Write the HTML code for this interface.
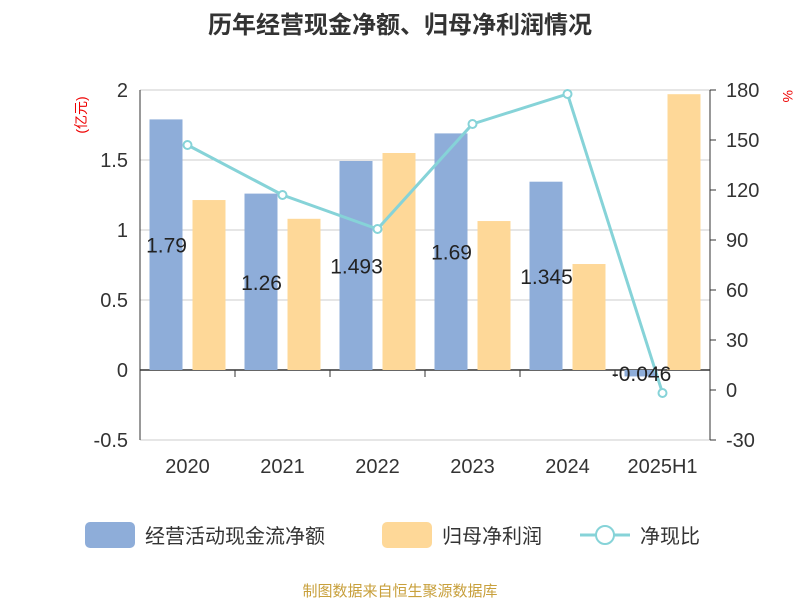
<!DOCTYPE html>
<html><head><meta charset="utf-8"><style>
body{margin:0;background:#fff;font-family:"Liberation Sans","Noto Sans CJK SC",sans-serif}
</style></head><body>
<svg id="c" width="800" height="600" xmlns="http://www.w3.org/2000/svg" style="font-family:'Liberation Sans','Noto Sans CJK SC',sans-serif">
<text x="400" y="33" text-anchor="middle" font-size="24" font-weight="bold" fill="#333">历年经营现金净额、归母净利润情况</text>
<text x="86" y="115" font-size="14" fill="#e00" transform="rotate(-90 86 115)" text-anchor="middle">(亿元)</text>
<text x="783" y="90" font-size="14" fill="#e00" transform="rotate(90 783 90)">%</text>
<g id="grid"></g><g id="bars"></g><g id="line"></g><g id="labels"></g>
<g>
<rect x="85" y="522" width="50" height="26" rx="5" fill="#8eadd9"/>
<text x="145" y="543" font-size="20" fill="#333">经营活动现金流净额</text>
<rect x="382" y="522" width="50" height="26" rx="5" fill="#fed898"/>
<text x="442" y="543" font-size="20" fill="#333">归母净利润</text>
<line x1="580" y1="535" x2="630" y2="535" stroke="#86d3d8" stroke-width="3"/>
<circle cx="605" cy="535" r="9" fill="#fff" stroke="#86d3d8" stroke-width="2"/>
<text x="640" y="543" font-size="20" fill="#333">净现比</text>
</g>
<text x="400" y="596" text-anchor="middle" font-size="15" fill="#c8a03c">制图数据来自恒生聚源数据库</text>
</svg>
<script>
const categories=["2020","2021","2022","2023","2024","2025H1"];
const cashFlow=[1.79,1.26,1.493,1.69,1.345,-0.046];
const netProfit=[1.214,1.08,1.55,1.064,0.757,1.97];
const ratio=[147,117,96.6,159.6,177.6,-1.8];
const leftTicks=[-0.5,0,0.5,1,1.5,2];
const leftTickLabels=["-0.5","0","0.5","1","1.5","2"];
const rightTicks=[-30,0,30,60,90,120,150,180];
const NS="http://www.w3.org/2000/svg";
const X0=140,X1=710,band=(X1-X0)/categories.length;
const yL=v=>370-v*140;
const yR=v=>390-v*(350/210);
const xc=i=>X0+band*(i+0.5);
function mk(t,a,p,txt){const e=document.createElementNS(NS,t);for(const k in a)e.setAttribute(k,a[k]);if(txt!==undefined)e.textContent=txt;document.getElementById(p).appendChild(e);return e;}
leftTicks.forEach((v,i)=>{
 const g=mk('line',{x1:X0,x2:X1,y1:yL(v),y2:yL(v),stroke:v===0?'#333':'#ccc','stroke-width':v===0?1.5:1},'grid');
 
 
 const t=mk('text',{x:X0-12,y:yL(v)+7,'text-anchor':'end','font-size':20,fill:'#333'},'grid',leftTickLabels[i]);
 
 
});
rightTicks.forEach(v=>{
 const t=mk('text',{x:X1+16,y:yR(v)+7,'font-size':20,fill:'#333'},'grid',String(v));
 
 
 const k=mk('line',{x1:X1,x2:X1+6,y1:yR(v),y2:yR(v),stroke:'#333'},'grid');
 
 
});
const la=mk('line',{x1:X0,x2:X0,y1:90,y2:440,stroke:'#333'},'grid');


const ra=mk('line',{x1:X1,x2:X1,y1:90,y2:440,stroke:'#333'},'grid');


categories.forEach((c,i)=>{
 const tk=mk('line',{x1:X0+band*(i+1),x2:X0+band*(i+1),y1:370,y2:377,stroke:'#333'},'grid');
 
 
 const t=mk('text',{x:xc(i),y:473,'text-anchor':'middle','font-size':20,fill:'#333'},'grid',c);
 
 
 const b1=mk('rect',{x:xc(i)-38,y:Math.min(yL(0),yL(cashFlow[i])),width:33,height:Math.abs(yL(cashFlow[i])-yL(0)),fill:'#8eadd9'},'bars');
 
 
 const b2=mk('rect',{x:xc(i)+5,y:Math.min(yL(0),yL(netProfit[i])),width:33,height:Math.abs(yL(netProfit[i])-yL(0)),fill:'#fed898'},'bars');
 
 
 const lb=mk('text',{x:xc(i)-21,y:(yL(0)+yL(cashFlow[i]))/2+8,'text-anchor':'middle','font-size':21,fill:'#222'},'labels',String(cashFlow[i]));
 
 
});
const pl=mk('polyline',{points:ratio.map((v,i)=>xc(i)+','+yR(v)).join(' '),fill:'none',stroke:'#86d3d8','stroke-width':3},'line');


ratio.forEach((v,i)=>{
 const p=mk('circle',{cx:xc(i),cy:yR(v),r:4,fill:'#fff',stroke:'#86d3d8','stroke-width':2},'line');
 
 
});
</script>
</body></html>
